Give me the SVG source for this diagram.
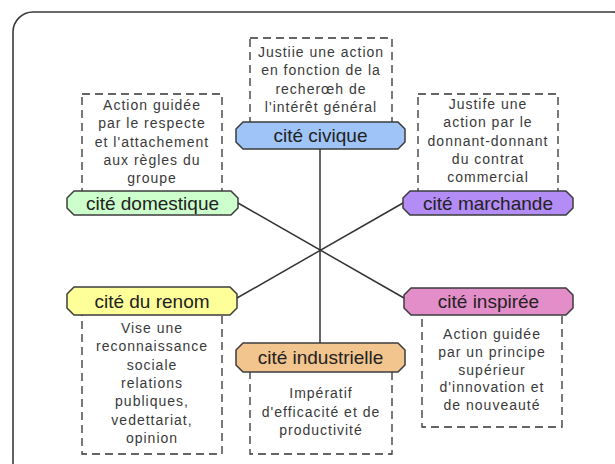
<svg xmlns="http://www.w3.org/2000/svg" width="615" height="464" viewBox="0 0 615 464">
<style>
.frame{fill:none;stroke:#3a3a3a;stroke-width:1.6}
.node{stroke:#3c3c3c;stroke-width:1.5;stroke-linejoin:round}
.box{fill:none;stroke:#333;stroke-width:1.3;stroke-dasharray:8 5}
.lbl{font-family:"Liberation Sans",Arial,sans-serif;font-size:19px;fill:#222;text-anchor:middle}
.txt{font-family:"Liberation Sans",Arial,sans-serif;font-size:14px;fill:#3a3a3a;text-anchor:middle;letter-spacing:1px}
.conn{stroke:#333;stroke-width:1.5;fill:none}
</style>
<rect width="615" height="464" fill="#ffffff"/>
<rect class="frame" x="13" y="12" width="620" height="470" rx="20" ry="20"/>
<g id="connectors">
<line class="conn" x1="320" y1="149" x2="320" y2="343"/>
<line class="conn" x1="238" y1="203" x2="404" y2="298"/>
<line class="conn" x1="403" y1="203" x2="237" y2="298"/>
</g>
<g id="civique">
<rect class="box" x="250" y="38" width="142" height="90"/>
<text class="txt" x="321" y="57">Justiie une action</text>
<text class="txt" x="321" y="75.3">en fonction de la</text>
<text class="txt" x="321" y="93.6">recherœh de</text>
<text class="txt" x="321" y="112">l'intérêt général</text>
<path class="node" fill="#9fc5f8" d="M243,122 H398 L405,129 V142 L398,149 H243 L236,142 V129 Z"/>
<text class="lbl" x="320.5" y="142">cité civique</text>
</g>
<g id="domestique">
<rect class="box" x="82" y="94" width="140" height="106"/>
<text class="txt" x="152" y="110">Action guidée</text>
<text class="txt" x="152" y="128.3">par le respecte</text>
<text class="txt" x="152" y="146.6">et l'attachement</text>
<text class="txt" x="152" y="164.9">aux règles du</text>
<text class="txt" x="152" y="183.2">groupe</text>
<path class="node" fill="#ccffcc" d="M74,191 H231 L238,198 V208 L231,215 H74 L67,208 V198 Z"/>
<text class="lbl" x="152.5" y="209.5">cité domestique</text>
</g>
<g id="marchande">
<rect class="box" x="418" y="94" width="140" height="106"/>
<text class="txt" x="488" y="109">Justife une</text>
<text class="txt" x="488" y="127.3">action par le</text>
<text class="txt" x="488" y="145.6">donnant-donnant</text>
<text class="txt" x="488" y="163.9">du contrat</text>
<text class="txt" x="488" y="182.2">commercial</text>
<path class="node" fill="#b38cf5" d="M410,191 H566 L573,198 V208 L566,215 H410 L403,208 V198 Z"/>
<text class="lbl" x="488" y="209.5">cité marchande</text>
</g>
<g id="renom">
<rect class="box" x="82" y="300" width="140" height="154"/>
<text class="txt" x="152" y="333">Vise une</text>
<text class="txt" x="152" y="351.3">reconnaissance</text>
<text class="txt" x="152" y="369.6">sociale</text>
<text class="txt" x="152" y="387.9">relations</text>
<text class="txt" x="152" y="406.2">publiques,</text>
<text class="txt" x="152" y="424.5">vedettariat,</text>
<text class="txt" x="152" y="442.8">opinion</text>
<path class="node" fill="#ffff99" d="M74,287 H230 L237,294 V308 L230,315 H74 L67,308 V294 Z"/>
<text class="lbl" x="152" y="307.5">cité du renom</text>
</g>
<g id="industrielle">
<rect class="box" x="250" y="358" width="142" height="96"/>
<text class="txt" x="321" y="398">Impératif</text>
<text class="txt" x="321" y="416.5">d'efficacité et de</text>
<text class="txt" x="321" y="435">productivité</text>
<path class="node" fill="#f2c48e" d="M243,343 H398 L405,350 V365 L398,372 H243 L236,365 V350 Z"/>
<text class="lbl" x="320.5" y="364">cité industrielle</text>
</g>
<g id="inspiree">
<rect class="box" x="422" y="300" width="140" height="127"/>
<text class="txt" x="492" y="339">Action guidée</text>
<text class="txt" x="492" y="356.8">par un principe</text>
<text class="txt" x="492" y="374.6">supérieur</text>
<text class="txt" x="492" y="392.4">d'innovation et</text>
<text class="txt" x="492" y="410.2">de nouveauté</text>
<path class="node" fill="#e38ec8" d="M411,288 H566 L573,295 V308 L566,315 H411 L404,308 V295 Z"/>
<text class="lbl" x="488.5" y="308">cité inspirée</text>
</g>
</svg>
